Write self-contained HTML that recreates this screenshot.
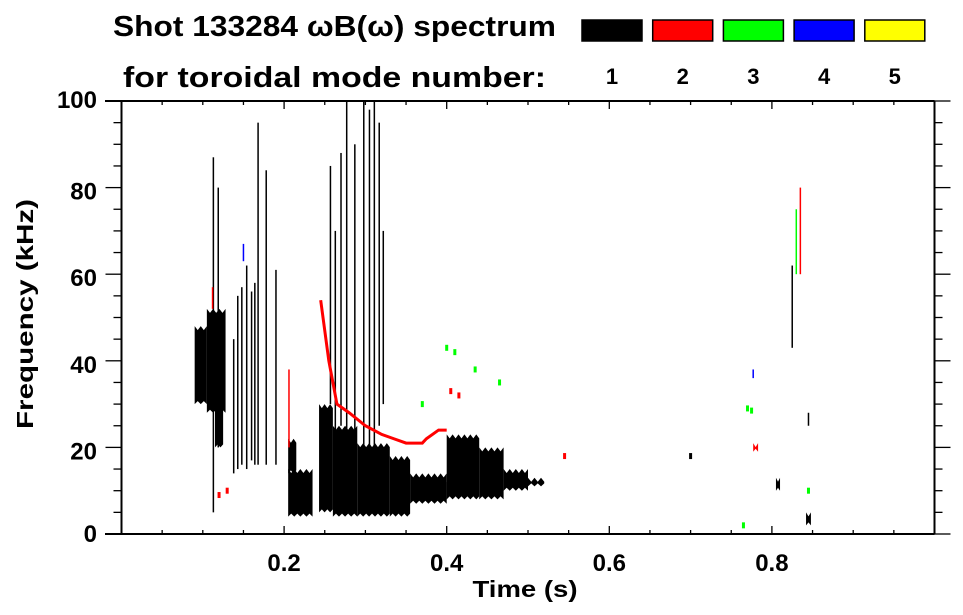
<!DOCTYPE html>
<html><head><meta charset="utf-8"><style>
body{margin:0;background:#fff}
svg{display:block;font-family:"Liberation Sans",sans-serif;font-weight:bold}
</style></head><body>
<svg id="chart" width="963" height="615" viewBox="0 0 963 615">
<text x="113" y="36" font-size="29" textLength="443" lengthAdjust="spacingAndGlyphs">Shot 133284 ωB(ω) spectrum</text>
<text x="123" y="87" font-size="29" textLength="423" lengthAdjust="spacingAndGlyphs">for toroidal mode number:</text>
<g id="legend"></g>
<g id="marks"></g>
<g id="axes"></g>
<text x="525" y="597" font-size="23" text-anchor="middle" textLength="105" lengthAdjust="spacingAndGlyphs">Time (s)</text>
<text transform="translate(33,314) rotate(-90)" font-size="23" text-anchor="middle" textLength="230" lengthAdjust="spacingAndGlyphs">Frequency (kHz)</text>
</svg>
<script>
const modeColors = ["#000000","#ff0000","#00ff00","#0000ff","#ffff00"];
const modeLabels = ["1","2","3","4","5"];
const xTicks = [0.2,0.4,0.6,0.8];
const yTicks = [0,20,40,60,80,100];
const blobT0 = [0.09,0.105,0.115,0.205,0.205,0.243,0.26,0.29,0.33,0.355,0.40,0.44,0.47,0.50,0.805,0.842,0.777,0.392];
const blobT1 = [0.105,0.128,0.125,0.235,0.215,0.26,0.29,0.33,0.355,0.40,0.44,0.47,0.50,0.52,0.81,0.848,0.783,0.40];
const blobF0 = [30,28,20,4,14,5,4,4,4,7,8,8,10,11,10,2,19,8];
const blobF1 = [48,52,30,15,22,30,25,21,18,14,23,20,15,13,13,5,21,12];
const blobMode = [1,1,1,1,1,1,1,1,1,1,1,1,1,1,1,1,2,1];
const streakT = [0.113,0.119,0.138,0.143,0.148,0.154,0.16,0.164,0.168,0.178,0.19,0.257,0.263,0.27,0.277,0.287,0.298,0.305,0.311,0.317,0.322,0.825,0.845,0.835,0.206,0.83,0.112,0.15,0.777];
const streakF0 = [5,20,14,15,16,15,17,16,16,16,16,30,20,25,20,20,15,20,20,25,30,43,25,60,20,60,52,63,36];
const streakF1 = [87,80,45,55,57,62,56,58,95,84,61,85,70,88,100,90,100,98,100,95,70,62,28,80,38,75,57,67,38];
const streakMode = [1,1,1,1,1,1,1,1,1,1,1,1,1,1,1,1,1,1,1,1,1,1,1,2,2,3,2,4,4];
const ridgeT = [0.245,0.255,0.265,0.28,0.30,0.32,0.335,0.35,0.37,0.375,0.39,0.40];
const ridgeF = [54,40,30,28,25,23,22,21,21,22,24,24];
const dotT = [0.40,0.41,0.435,0.465,0.37,0.77,0.775,0.765,0.845,0.405,0.415,0.12,0.13,0.545,0.70];
const dotF = [43,42,38,35,30,29,28.5,2,10,33,32,9,10,18,18];
const dotMode = [3,3,3,3,3,3,3,3,3,2,2,2,2,2,1];

const L=121.5,R=934.5,T=101,B=534;
const xs=t=>L+(t-0)/(1-0)*(R-L);
const ys=f=>B-(f-0)/(100-0)*(B-T);
const NS="http://www.w3.org/2000/svg";
function mk(tag,attrs,parent){const e=document.createElementNS(NS,tag);for(const k in attrs)e.setAttribute(k,attrs[k]);parent.appendChild(e);return e;}
const marks=document.getElementById('marks'),axes=document.getElementById('axes'),legend=document.getElementById('legend');

modeLabels.forEach((lab,i)=>{
  const x=582+i*70.7;
  const r=mk('rect',{x:x,y:20,width:60,height:21,fill:modeColors[i],stroke:'#000','stroke-width':1.5},legend);
  
  
  const t=mk('text',{x:x+30,y:84,'font-size':22,'text-anchor':'middle'},legend);
  t.textContent=lab;
  
  
});

blobT0.forEach((t0,i)=>{
  const x0=xs(t0),x1=xs(blobT1[i]),y0=ys(blobF1[i]),y1=ys(blobF0[i]);
  const pts=[];const n=Math.max(2,Math.round((x1-x0)/3));
  for(let k=0;k<=n;k++){pts.push((x0+(x1-x0)*k/n)+','+(y0+((k%2)?4:0)));}
  for(let k=n;k>=0;k--){pts.push((x0+(x1-x0)*k/n)+','+(y1-((k%2)?3:0)));}
  const p=mk('polygon',{points:pts.join(' '),fill:modeColors[blobMode[i]-1]},marks);
  
  
});
streakT.forEach((t,i)=>{
  const r=mk('rect',{x:xs(t)-0.75,y:ys(streakF1[i]),width:1.5,height:ys(streakF0[i])-ys(streakF1[i]),fill:modeColors[streakMode[i]-1]},marks);
  
  
});
const rl=mk('polyline',{points:ridgeT.map((t,i)=>xs(t)+','+ys(ridgeF[i])).join(' '),fill:'none',stroke:modeColors[1],'stroke-width':3},marks);


dotT.forEach((t,i)=>{
  const r=mk('rect',{x:xs(t)-1.5,y:ys(dotF[i])-3,width:3,height:6,fill:modeColors[dotMode[i]-1]},marks);
  
  
});

mk('line',{x1:105,y1:B,x2:R,y2:B,stroke:'#000','stroke-width':2},axes);
mk('line',{x1:105,y1:T,x2:R,y2:T,stroke:'#000','stroke-width':2},axes);
mk('line',{x1:L,y1:T,x2:L,y2:B,stroke:'#000','stroke-width':2},axes);
mk('line',{x1:R,y1:T,x2:R,y2:B,stroke:'#000','stroke-width':2},axes);
for(let v=0;v<=100;v+=5){
  const maj=v%20===0,y=ys(v);
  mk('line',{x1:L-(maj?16:8),y1:y,x2:L,y2:y,stroke:'#000','stroke-width':1.3},axes);
  mk('line',{x1:R,y1:y,x2:R+(maj?16:8),y2:y,stroke:'#000','stroke-width':1.3},axes);
}
for(let v=0.05;v<1;v+=0.05){
  const maj=Math.abs(v*10-Math.round(v*10))<1e-6&&Math.round(v*10)%2===0,x=xs(v);
  mk('line',{x1:x,y1:B,x2:x,y2:B-(maj?8:4),stroke:'#000','stroke-width':1.3},axes);
  mk('line',{x1:x,y1:T,x2:x,y2:T+(maj?8:4),stroke:'#000','stroke-width':1.3},axes);
}
yTicks.forEach(v=>{
  const t=mk('text',{x:97,y:ys(v)+12-(v===100?5:0)-(v===0?4:0),'font-size':24,'text-anchor':'end'},axes);
  t.textContent=String(v);
  
  
});
xTicks.forEach(v=>{
  const t=mk('text',{x:xs(v),y:571,'font-size':24,'text-anchor':'middle'},axes);
  t.textContent=String(v);
  
  
});
</script>
</body></html>
